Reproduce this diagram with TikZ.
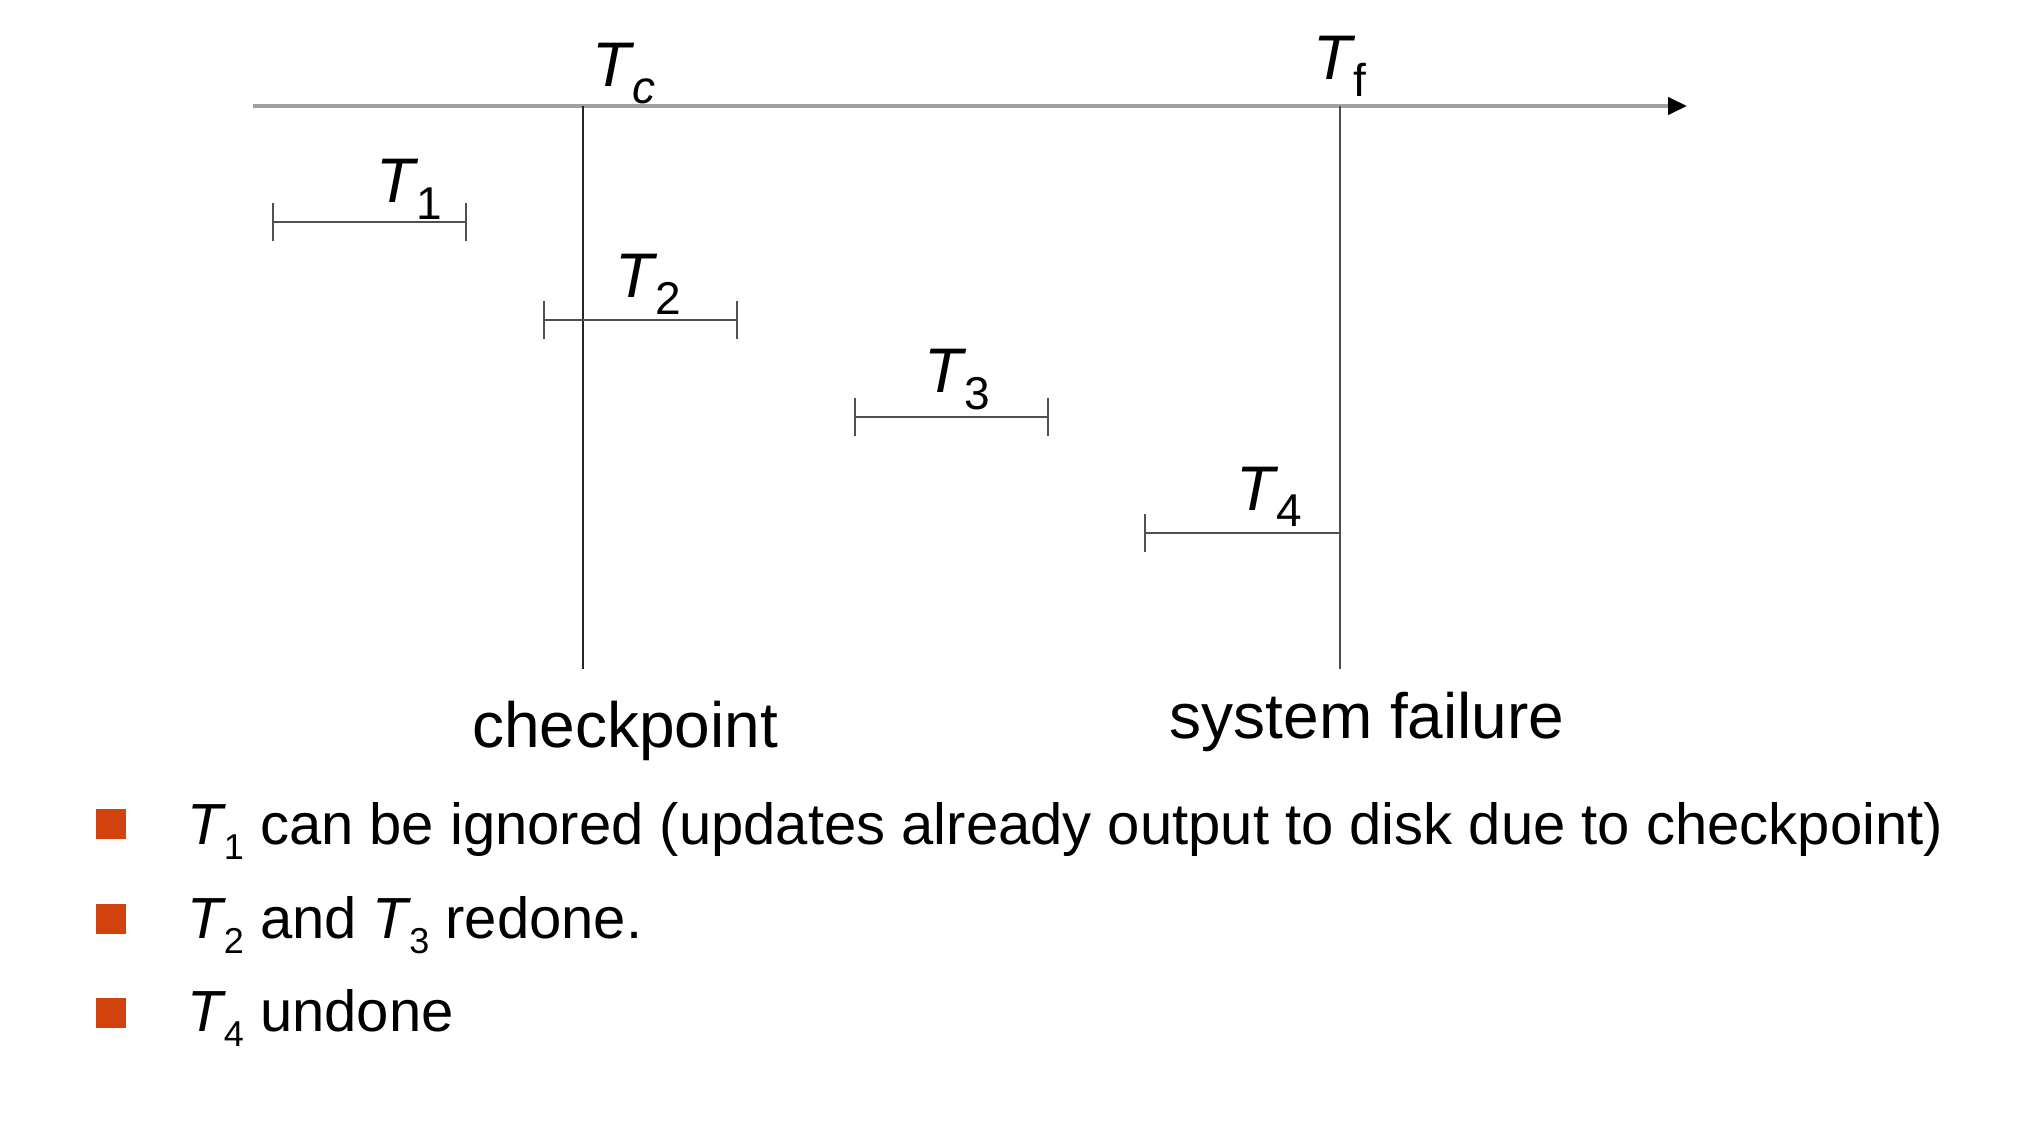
\documentclass[tikz,border=0pt]{standalone}
\usepackage{fontspec}
\setmainfont{Liberation Sans}
\usetikzlibrary{arrows.meta}
\definecolor{bulletorange}{HTML}{D2420F}
\definecolor{axisgray}{HTML}{A0A0A0}
\definecolor{bargray}{HTML}{505050}
\newcommand{\Tsub}[2]{\textit{T}\kern-0.04em\raisebox{-0.26em}{\fontsize{#2}{#2}\selectfont #1}}
\tikzset{
  axisline/.style={draw=axisgray, line width=2pt, -{Triangle[length=9.5pt,width=8.5pt,color=black]}},
  markline/.style={draw=black!85, line width=0.9pt},
  barline/.style={draw=bargray, line width=1.4pt},
  tickline/.style={draw=bargray, line width=1.1pt},
  tlabel/.style={anchor=base west, inner sep=0pt, font=\fontsize{31.5pt}{36pt}\selectfont},
  biglabel/.style={anchor=base, inner sep=0pt, font=\fontsize{32pt}{38pt}\selectfont},
  btext/.style={anchor=base west, inner sep=0pt, font=\fontsize{29pt}{34pt}\selectfont},
  bsquare/.style={fill=bulletorange, draw=none, minimum width=15pt, minimum height=15pt, inner sep=0pt}
}
\begin{document}
\begin{tikzpicture}[x=0.5pt,y=-0.5pt]
\useasboundingbox (0,0) rectangle (2022,1138);
\fill[white] (0,0) rectangle (2022,1138);
% axis
\coordinate (axL) at (253,106);
\coordinate (axR) at (1687,106);
\draw[axisline] (axL) -- (axR);
% checkpoint and failure lines
\coordinate (cTop) at (583,106);
\coordinate (cBot) at (583,669);
\coordinate (fTop) at (1340,106);
\coordinate (fBot) at (1340,669);
\draw[markline] (cTop) -- (cBot);
\draw[markline, draw=black!70] (fTop) -- (fBot);
\node[tlabel] (Tc) at (592,87) {\Tsub{\textit{c}}{23pt}};
\node[tlabel] (Tf) at (1313,80) {\Tsub{f}{23pt}};
% transactions
\coordinate (a1) at (273,222); \coordinate (b1) at (466,222);
\coordinate (a2) at (544,320); \coordinate (b2) at (737,320);
\coordinate (a3) at (855,417); \coordinate (b3) at (1048,417);
\coordinate (a4) at (1145,533); \coordinate (b4) at (1340,533);
\draw[barline] (a1) -- (b1);
\draw[barline] (a2) -- (b2);
\draw[barline] (a3) -- (b3);
\draw[barline] (a4) -- (b4);
\foreach \p in {a1,b1,a2,b2,a3,b3,a4}{
  \draw[tickline] ([yshift=-9.5pt]\p) -- ([yshift=9.5pt]\p);
}
\node[tlabel] (T1) at (376,203) {\Tsub{1}{23pt}};
\node[tlabel] (T2) at (615,298) {\Tsub{2}{23pt}};
\node[tlabel] (T3) at (924,393) {\Tsub{3}{23pt}};
\node[tlabel] (T4) at (1236,510) {\Tsub{4}{23pt}};
% bottom labels
\node[biglabel] (ckpt) at (625,747) {checkpoint};
\node[biglabel] (fail) at (1367,738) {system failure};
% bullets
\node[bsquare] (s1) at (111,824) {};
\node[bsquare] (s2) at (111,919) {};
\node[bsquare] (s3) at (111,1013) {};
\node[btext] (l1) at (187,844) {\Tsub{1}{18pt} can be ignored (updates already output to disk due to checkpoint)};
\node[btext] (l2) at (187,938) {\Tsub{2}{18pt} and \Tsub{3}{18pt} redone.};
\node[btext] (l3) at (187,1031) {\Tsub{4}{18pt} undone};
\end{tikzpicture}
\end{document}
